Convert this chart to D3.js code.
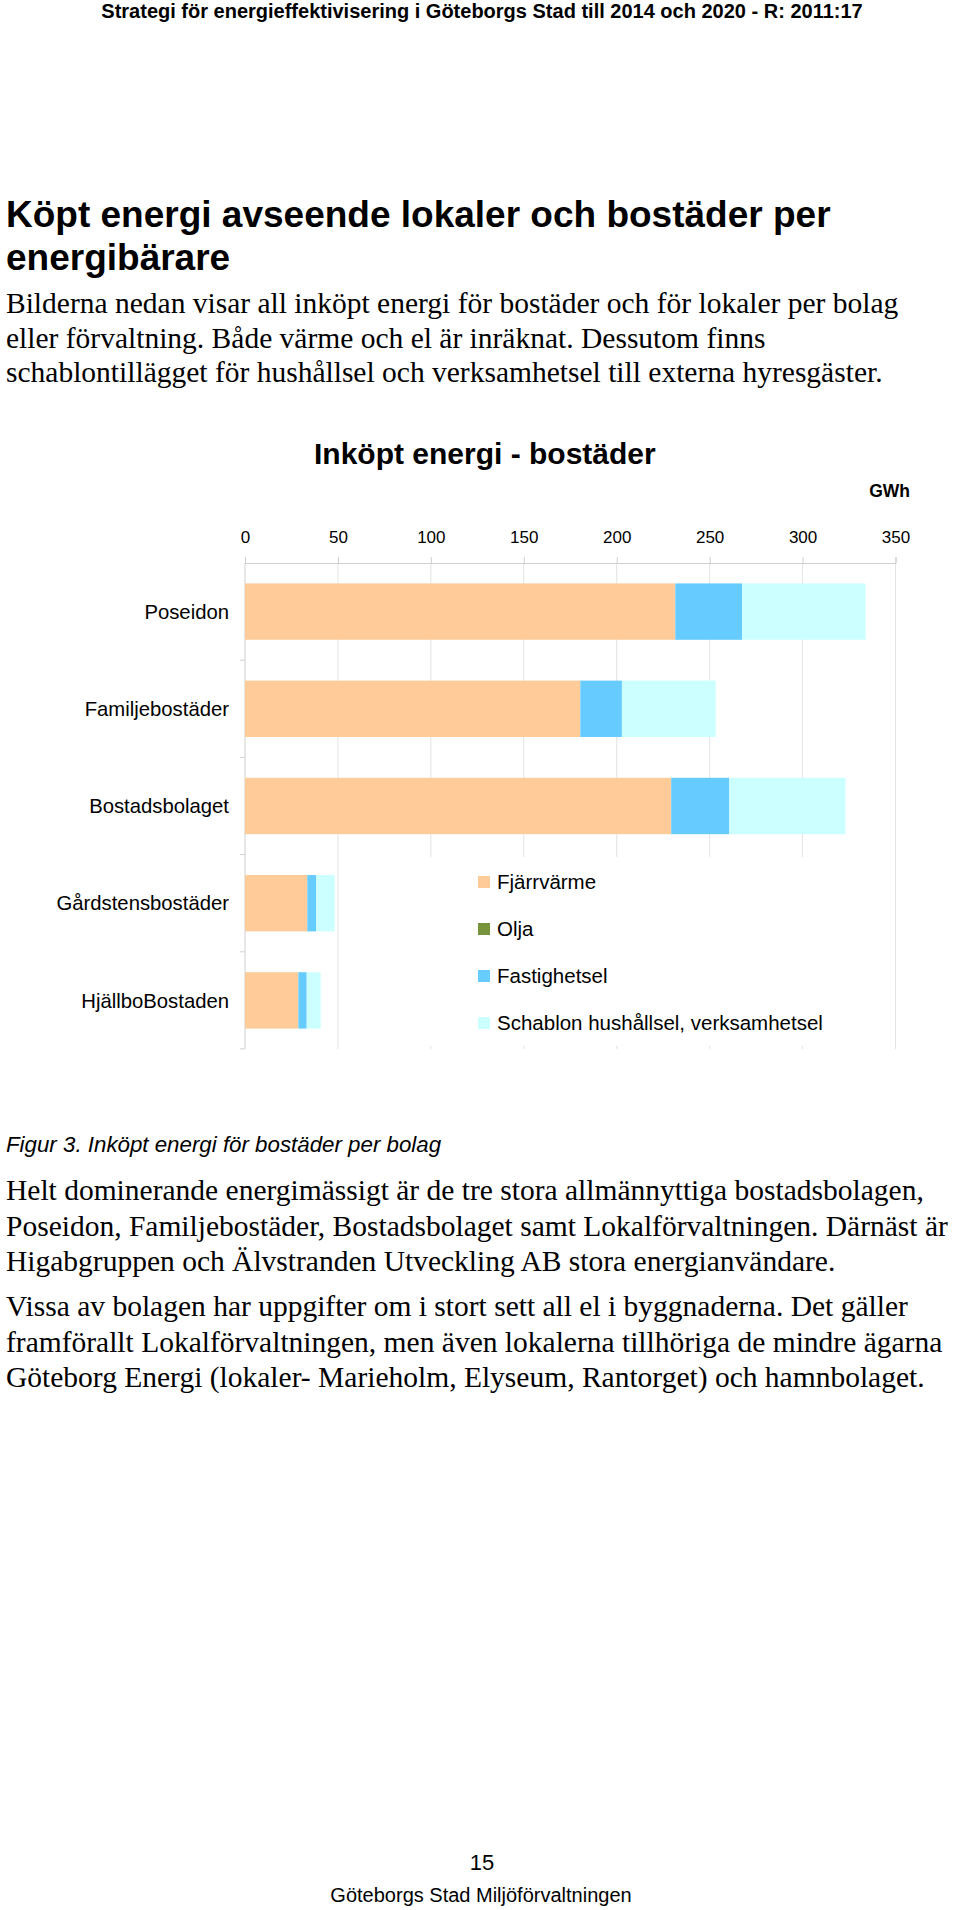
<!DOCTYPE html>
<html>
<head>
<meta charset="utf-8">
<script src="https://cdn.jsdelivr.net/npm/d3@7"></script>
<style>
  body { margin: 0; background: #fff; }
  svg text { fill: #000; }
</style>
</head>
<body>
<div class="viz"></div>
<script>
const w = 960;
const h = 1910;

// chart data (GWh)
const companies = ["Poseidon", "Familjebostäder", "Bostadsbolaget", "Gårdstensbostäder", "HjällboBostaden"];
const seriesNames = ["Fjärrvärme", "Olja", "Fastighetsel", "Schablon hushållsel, verksamhetsel"];
const fjarrvarme = [231.5, 180.4, 229.3, 33.5, 28.7];
const olja = [0, 0, 0, 0, 0];
const fastighetsel = [36.0, 22.4, 31.3, 4.7, 4.5];
const schablon = [66.4, 50.5, 62.5, 10.1, 7.5];
const ticks = [0, 50, 100, 150, 200, 250, 300, 350];
const colors = ["#FFCC99", "#77933C", "#66CCFF", "#CCFFFF"];

// page text
const header = "Strategi för energieffektivisering i Göteborgs Stad till 2014 och 2020 - R: 2011:17";
const heading = ["Köpt energi avseende lokaler och bostäder per", "energibärare"];
const para1 = [
    "Bilderna nedan visar all inköpt energi för bostäder och för lokaler per bolag",
    "eller förvaltning. Både värme och el är inräknat. Dessutom finns",
    "schablontillägget för hushållsel och verksamhetsel till externa hyresgäster."
];
const caption = "Figur 3. Inköpt energi för bostäder per bolag";
const para2 = [
    "Helt dominerande energimässigt är de tre stora allmännyttiga bostadsbolagen,",
    "Poseidon, Familjebostäder, Bostadsbolaget samt Lokalförvaltningen. Därnäst är",
    "Higabgruppen och Älvstranden Utveckling AB stora energianvändare."
];
const para3 = [
    "Vissa av bolagen har uppgifter om i stort sett all el i byggnaderna. Det gäller",
    "framförallt Lokalförvaltningen, men även lokalerna tillhöriga de mindre ägarna",
    "Göteborg Energi (lokaler- Marieholm, Elyseum, Rantorget) och hamnbolaget."
];

const svg = d3.select(".viz")
    .append("svg")
    .attr("width", w)
    .attr("height", h);

const sans = "'Liberation Sans', Arial, sans-serif";
const serif = "'Liberation Serif', 'Times New Roman', serif";

function line(txt, x, y, size, opts) {
    opts = opts || {};
    return svg.append("text")
        .attr("x", x)
        .attr("y", y)
        .style("font-family", opts.family || sans)
        .style("font-size", size + "px")
        .style("font-weight", opts.bold ? "bold" : "normal")
        .style("font-style", opts.italic ? "italic" : "normal")
        .attr("text-anchor", opts.anchor || "start")
        .text(txt);
}

// page header + text above the chart
line(header, 482, 18, 20, {bold: true, anchor: "middle"});
line(heading[0], 6, 227, 37, {bold: true});
line(heading[1], 6, 270, 37, {bold: true});
para1.forEach((s, i) => line(s, 6, 313 + i * 34.5, 29.5, {family: serif}));

// ---- chart ----
const x = d3.scaleLinear().domain([0, 350]).range([245, 895.5]);
const y = d3.scaleBand().domain(companies).range([563, 1049])
    .paddingInner(0.42).paddingOuter(0.21);

line("Inköpt energi - bostäder", 314, 464, 30, {bold: true});
line("GWh", 910, 497, 17.5, {bold: true, anchor: "end"});

// gridlines
svg.append("g").selectAll("line")
    .data(ticks.slice(1))
    .enter()
    .append("line")
    .attr("x1", d => x(d)).attr("x2", d => x(d))
    .attr("y1", 563).attr("y2", 1049)
    .style("stroke", "#e3e3e3");

// top axis
const xAxis = svg.append("g")
    .attr("transform", "translate(0,563)")
    .call(d3.axisTop(x).tickValues(ticks).tickSize(6).tickPadding(14));
xAxis.select(".domain").style("stroke", "#cfcfcf");
xAxis.selectAll(".tick line").style("stroke", "#cfcfcf");
xAxis.selectAll(".tick text")
    .style("font-family", sans)
    .style("font-size", "17px")
    .style("fill", "#000");

// left axis line with ticks at category boundaries
const step = y.step();
const bounds = companies.map(c => y(c) - step * y.paddingInner() / 2).concat([1049]);
svg.append("line")
    .attr("x1", x(0)).attr("x2", x(0))
    .attr("y1", 563).attr("y2", 1049)
    .style("stroke", "#cfcfcf");
svg.append("g").selectAll("line")
    .data(bounds.slice(1))
    .enter()
    .append("line")
    .attr("x1", x(0) - 5).attr("x2", x(0))
    .attr("y1", d => d).attr("y2", d => d)
    .style("stroke", "#cfcfcf");

// category labels
svg.append("g").selectAll("text")
    .data(companies)
    .enter()
    .append("text")
    .attr("x", 229)
    .attr("y", d => y(d) + y.bandwidth() / 2)
    .attr("dy", "0.35em")
    .attr("text-anchor", "end")
    .style("font-family", sans)
    .style("font-size", "20.3px")
    .text(d => d);

// stacked bars
const rows = companies.map((c, i) => ({
    company: c,
    "Fjärrvärme": fjarrvarme[i],
    "Olja": olja[i],
    "Fastighetsel": fastighetsel[i],
    "Schablon hushållsel, verksamhetsel": schablon[i]
}));
const stacked = d3.stack().keys(seriesNames)(rows);

svg.append("g").selectAll("g")
    .data(stacked)
    .enter()
    .append("g")
    .style("fill", (d, i) => colors[i])
    .selectAll("rect")
    .data(d => d)
    .enter()
    .append("rect")
    .attr("x", d => x(d[0]))
    .attr("y", d => y(d.data.company))
    .attr("width", d => x(d[1]) - x(d[0]))
    .attr("height", y.bandwidth());

// legend with white box over the grid
svg.append("rect")
    .attr("x", 350).attr("y", 857)
    .attr("width", 538).attr("height", 189)
    .style("fill", "#fff");

const legend = svg.append("g").selectAll("g")
    .data(seriesNames)
    .enter()
    .append("g")
    .attr("transform", (d, i) => "translate(478," + (882 + i * 47) + ")");
legend.append("rect")
    .attr("x", 0).attr("y", -6)
    .attr("width", 12).attr("height", 12)
    .style("fill", (d, i) => colors[i]);
legend.append("text")
    .attr("x", 19)
    .attr("dy", "0.35em")
    .style("font-family", sans)
    .style("font-size", "20.5px")
    .text(d => d);

// caption and text below
line(caption, 6, 1152, 22.3, {italic: true});
para2.forEach((s, i) => line(s, 6, 1200 + i * 35.5, 29.5, {family: serif}));
para3.forEach((s, i) => line(s, 6, 1316 + i * 35.5, 29.5, {family: serif}));

// footer
line("15", 482, 1870, 22, {anchor: "middle"});
line("Göteborgs Stad Miljöförvaltningen", 481, 1902, 20, {anchor: "middle"});
</script>
</body>
</html>
